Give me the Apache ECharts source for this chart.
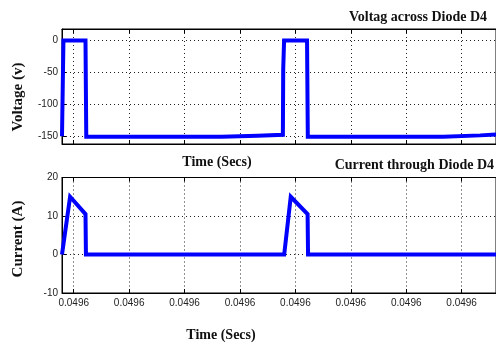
<!DOCTYPE html>
<html>
<head>
<meta charset="utf-8">
<title>Diode D4</title>
<script src="https://cdn.jsdelivr.net/npm/echarts@6/dist/echarts.min.js"></script>
<style>
  html, body { margin: 0; padding: 0; background: #fff; }
  #chart { width: 496px; height: 345px; }
</style>
</head>
<body>
<div id="chart"></div>
<script>
// time axis: microseconds after t = 0.0496 s
var xTicks = [0, 5, 10, 15, 20, 25, 30, 35];
var xTickLabels = ['0.0496', '0.0496', '0.0496', '0.0496', '0.0496', '0.0496', '0.0496', '0.0496'];

var voltageTicks = [-150, -100, -50, 0];
var currentTicks = [-10, 0, 10, 20];

var voltageTime = [-1.06, -0.93, 1.06, 1.13, 13.32, 13.38, 16.58, 16.64, 18.87, 18.9, 18.98, 21.05, 21.12, 33.33, 33.39, 36.68, 36.74, 38.1];
var voltage     = [-150, 0, 0, -150.5, -150.5, -149, -149, -147.5, -147.5, -45, 0, 0, -150.5, -150.5, -148.5, -148.5, -147, -147];

var currentTime = [-1.06, -0.33, 1.06, 1.1, 18.99, 19.58, 21.1, 21.14, 38.1];
var current     = [0, 15, 10.5, 0, 0, 15, 10.5, 0, 0];

var chart = echarts.init(document.getElementById('chart'));

function pairs(xs, ys) {
  return xs.map(function (x, i) { return [x, ys[i]]; });
}

var dotted = { show: true, lineStyle: { color: '#222', width: 1, type: [1, 3] } };
var labelFont = { fontFamily: 'Liberation Sans', fontSize: 10, color: '#222' };
var serif = 'bold 14px "Liberation Serif"';

function bottomX(grid, showLabels) {
  return {
    gridIndex: grid, type: 'value', min: -1.06, max: 38.1,
    axisLine: { show: true, onZero: false, lineStyle: { color: '#000' } },
    axisTick: { show: true, inside: true, length: 4, customValues: xTicks, lineStyle: { color: '#000' } },
    axisLabel: Object.assign({
      show: showLabels, margin: 5, customValues: xTicks,
      formatter: function (v) { return xTickLabels[xTicks.indexOf(v)] || ''; }
    }, labelFont),
    splitLine: dotted
  };
}
function topX(grid) {
  return {
    gridIndex: grid, type: 'value', position: 'top', min: -1.06, max: 38.1,
    axisLine: { show: true, onZero: false, lineStyle: { color: '#000' } },
    axisTick: { show: true, inside: true, length: 4, customValues: xTicks, lineStyle: { color: '#000' } },
    axisLabel: { show: false },
    splitLine: { show: false }
  };
}
function leftY(grid, min, max, ticks) {
  return {
    gridIndex: grid, type: 'value', min: min, max: max,
    axisLine: { show: true, onZero: false, lineStyle: { color: '#000' } },
    axisTick: { show: true, inside: true, length: 4, customValues: ticks, lineStyle: { color: '#000' } },
    axisLabel: Object.assign({ margin: 4, customValues: ticks }, labelFont),
    splitLine: dotted
  };
}

var option = {
  backgroundColor: '#fff',
  animation: false,
  grid: [
    { left: 62, top: 29, right: -10, height: 115, show: true, borderColor: '#000', borderWidth: 1, backgroundColor: '#fff' },
    { left: 62, top: 177.5, right: -10, height: 115.5, show: true, borderColor: '#000', borderWidth: 1, backgroundColor: '#fff' }
  ],
  xAxis: [bottomX(0, false), bottomX(1, true), topX(0), topX(1)],
  yAxis: [leftY(0, -162, 18, voltageTicks), leftY(1, -10, 20, currentTicks)],
  graphic: [
    { type: 'text', x: 487, y: 17, style: { text: 'Voltag across Diode D4', font: serif, fill: '#111', textAlign: 'right', textVerticalAlign: 'middle' } },
    { type: 'text', x: 494, y: 165, style: { text: 'Current through Diode D4', font: serif, fill: '#111', textAlign: 'right', textVerticalAlign: 'middle' } },
    { type: 'text', x: 217, y: 162, style: { text: 'Time (Secs)', font: serif, fill: '#111', textAlign: 'center', textVerticalAlign: 'middle' } },
    { type: 'text', x: 221, y: 335, style: { text: 'Time (Secs)', font: serif, fill: '#111', textAlign: 'center', textVerticalAlign: 'middle' } },
    { type: 'text', x: 18, y: 97, rotation: Math.PI / 2, style: { text: 'Voltage (v)', font: 'bold 15px "Liberation Serif"', fill: '#111', textAlign: 'center', textVerticalAlign: 'middle' } },
    { type: 'text', x: 18, y: 239, rotation: Math.PI / 2, style: { text: 'Current (A)', font: 'bold 15px "Liberation Serif"', fill: '#111', textAlign: 'center', textVerticalAlign: 'middle' } }
  ],
  series: [
    {
      type: 'line', xAxisIndex: 0, yAxisIndex: 0, showSymbol: false,
      data: pairs(voltageTime, voltage),
      lineStyle: { color: '#0000ff', width: 4, join: 'miter' }
    },
    {
      type: 'line', xAxisIndex: 1, yAxisIndex: 1, showSymbol: false,
      data: pairs(currentTime, current),
      lineStyle: { color: '#0000ff', width: 4, join: 'miter' }
    }
  ]
};

chart.setOption(option);
</script>
</body>
</html>
